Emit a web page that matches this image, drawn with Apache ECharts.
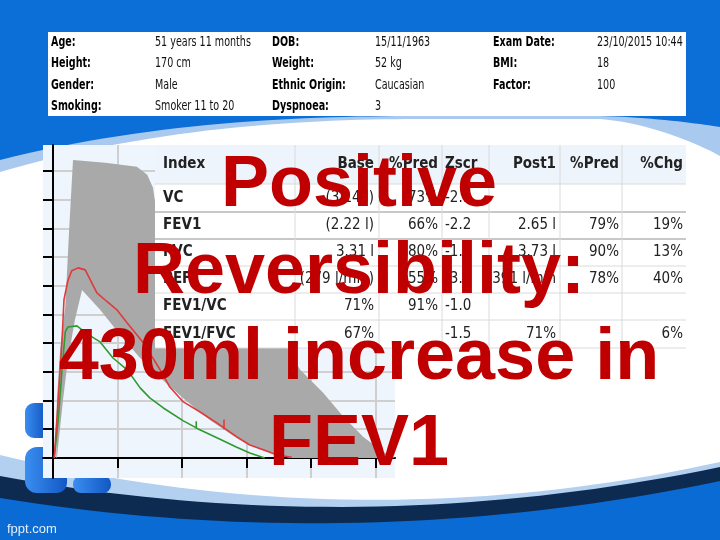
<!DOCTYPE html>
<html><head><meta charset="utf-8">
<script src="https://cdn.jsdelivr.net/npm/echarts@6/dist/echarts.min.js"></script>
<style>html,body{margin:0;padding:0;background:#0b6fd7;}#c{width:720px;height:540px;}</style>
</head><body><div id="c"></div>
<script>
// ---------- data ----------
const xTicks = [1, 2, 3, 4, 5];                 // volume (l)
const yTicks = [1, 2, 3, 4, 5, 6, 7, 8, 9, 10]; // flow (l/s)

// post-bronchodilator flow-volume curve (red)
const postCurve = [[0.02,0],[0.08,2.02],[0.14,4.11],[0.17,5.51],[0.23,6.17],[0.29,6.52],[0.39,6.62],[0.50,6.55],[0.57,6.24],[0.68,5.75],[0.84,5.44],[0.99,5.16],[1.15,4.70],[1.40,4.01],[1.66,3.07],[1.81,2.47],[2.02,1.95],[2.23,1.67],[2.54,1.22],[2.85,0.73],[3.05,0.45],[3.26,0.28],[3.47,0.10],[3.70,0.02]];
// baseline flow-volume curve (green)
const baseCurve = [[0.02,0],[0.08,1.32],[0.14,3.07],[0.19,4.39],[0.23,4.56],[0.37,4.60],[0.53,4.32],[0.73,4.04],[0.93,3.48],[1.15,3.07],[1.35,2.44],[1.50,2.09],[1.71,1.74],[2.02,1.29],[2.25,1.01],[2.54,0.70],[2.84,0.38],[3.05,0.17],[3.28,0]];
// FEV1 markers
const fev1BaseMark = [[2.22,1.02],[2.22,1.28]];
const fev1PostMark = [[2.65,1.00],[2.65,1.34]];
// predicted normal band
const bandOuter = [[0.05,0],[0.06,2.02],[0.11,3.76],[0.19,5.26],[0.25,7.94],[0.31,10.38],[0.81,10.28],[1.30,10.14],[1.46,9.86],[1.55,9.41],[1.60,8.6],[2.2,7.0],[2.9,5.3],[3.5,4.1],[3.63,3.83],[3.83,3.07],[4.19,2.26],[4.50,1.43],[4.81,0.73],[5.12,0.21],[5.3,0]];
const bandInner = [[3.67,0],[3.21,0.28],[2.82,0.73],[2.43,1.32],[2.05,2.02],[1.66,2.79],[1.35,3.48],[1.04,4.29],[0.73,5.16],[0.45,5.85],[0.34,4.81],[0.23,3.41],[0.155,2.02],[0.09,0.63],[0.06,0]];

// patient info
const infoLabels1 = ['Age:','Height:','Gender:','Smoking:'];
const infoValues1 = ['51 years 11 months','170 cm','Male','Smoker 11 to 20'];
const infoLabels2 = ['DOB:','Weight:','Ethnic Origin:','Dyspnoea:'];
const infoValues2 = ['15/11/1963','52 kg','Caucasian','3'];
const infoLabels3 = ['Exam Date:','BMI:','Factor:',''];
const infoValues3 = ['23/10/2015 10:44','18','100',''];

// results table
const tableHeader = ['Index','Base','%Pred','Zscr','Post1','%Pred','%Chg'];
const indexNames = ['VC','FEV1','FVC','PEF','FEV1/VC','FEV1/FVC'];
const baseVals   = ['(3.14 l)','(2.22 l)','3.31 l','(279 l/min)','71%','67%'];
const basePred   = ['73%','66%','80%','55%','91%',''];
const zscrVals   = ['-2.1','-2.2','-1.4','-3.1','-1.0','-1.5'];
const postVals   = ['','2.65 l','3.73 l','391 l/min','','71%'];
const postPred   = ['','79%','90%','78%','',''];
const chgVals    = ['','19%','13%','40%','','6%'];

const titleLines = ['Positive','Reversibility:','430ml increase in','FEV1'];

// ---------- helpers for decoration ----------
function cubic(p0,p1,p2,p3,n){const o=[];for(let i=0;i<=n;i++){const t=i/n,u=1-t;o.push([u*u*u*p0[0]+3*u*u*t*p1[0]+3*u*t*t*p2[0]+t*t*t*p3[0],u*u*u*p0[1]+3*u*u*t*p1[1]+3*u*t*t*p2[1]+t*t*t*p3[1]]);}return o;}
function quad(p0,p1,p2,n){const o=[];for(let i=0;i<=n;i++){const t=i/n,u=1-t;o.push([u*u*p0[0]+2*u*t*p1[0]+t*t*p2[0],u*u*p0[1]+2*u*t*p1[1]+t*t*p2[1]]);}return o;}

// ---------- build ----------
const chart = echarts.init(document.getElementById('c'));
const G = [];
function topShape(y0,yA,yB,yC,yEnd){
  return cubic([0,y0],[150,yA],[300,yB],[420,yB],30).concat([[600,yB]]).concat(cubic([600,yB],[650,yB+yC*0.1],[700,yB+yC*0.7],[720,yEnd],20)).concat([[720,540],[0,540]]);
}
const bgPolys = [
  [topShape(160,122,116,11,127), '#a9c9ef'],
  [topShape(172,128,119,37,156), '#ffffff'],
  [quad([0,455],[360,541],[720,462],40).concat([[720,540],[0,540]]), '#b3d0f0'],
  [quad([0,476],[360,542],[720,467],40).concat([[720,540],[0,540]]), '#0d2b50'],
  [quad([0,498],[360,556],[720,481],40).concat([[720,540],[0,540]]), '#0a6bd4']
];
bgPolys.forEach(p => G.push({type:'polygon', z:-10, silent:true, shape:{points:p[0]}, style:{fill:p[1]}}));
// clipart figures
[[25,403,20,35,[9,3,3,9]],[25,447,42,46,[12,8,10,12]],[73,476,38,17,[8,8,8,8]]].forEach(r =>
  G.push({type:'rect', z:-9, silent:true, shape:{x:r[0],y:r[1],width:r[2],height:r[3],r:r[4]},
    style:{fill:{type:'linear',x:0,y:0,x2:1,y2:0,colorStops:[{offset:0,color:'#3b8ef0'},{offset:1,color:'#1257c4'}]}}}));
G.push({type:'text', z:-8, x:7, y:529, style:{text:'fppt.com', font:'13px "Liberation Sans", Arial', fill:'#e6eef8', align:'left', verticalAlign:'middle'}});

// info box
G.push({type:'rect', z:50, shape:{x:48,y:32,width:638,height:84}, style:{fill:'#ffffff'}});
const infoRows = [42, 63.5, 85, 106];
const infoCols = [[51,155,infoLabels1,infoValues1],[272,375,infoLabels2,infoValues2],[493,597,infoLabels3,infoValues3]];
infoCols.forEach(c => {
  c[2].forEach((t,i) => { if(t) G.push({type:'text', z:51, x:c[0], y:infoRows[i], scaleX:0.76,
      style:{text:t, font:'bold 14px "DejaVu Sans Condensed", "DejaVu Sans"', fill:'#000', align:'left', verticalAlign:'middle'}}); });
  c[3].forEach((t,i) => { if(t) G.push({type:'text', z:51, x:c[1], y:infoRows[i], scaleX:0.76,
      style:{text:t, font:'14px "DejaVu Sans Condensed", "DejaVu Sans"', fill:'#111', align:'left', verticalAlign:'middle'}}); });
});

// results table
const colX = [155,295,379,442,489,560,622,686];
const rowY = [145,184,212,239,266,293,320,348];
G.push({type:'rect', z:60, shape:{x:colX[0],y:rowY[0],width:colX[7]-colX[0],height:rowY[7]-rowY[0]}, style:{fill:'#ffffff'}});
G.push({type:'rect', z:60, shape:{x:colX[0],y:rowY[0],width:colX[7]-colX[0],height:rowY[1]-rowY[0]}, style:{fill:'#eef4fb'}});
rowY.forEach((y,i) => { if (i>0) G.push({type:'line', z:61, shape:{x1:colX[0],y1:y,x2:colX[7],y2:y},
   style:{stroke:(i===2||i===3)?'#c8c8c8':'#dadada', lineWidth:(i===2||i===3)?2:1}}); });
colX.forEach((x,i) => { if (i>0 && i<7) G.push({type:'line', z:61, shape:{x1:x,y1:rowY[0],x2:x,y2:rowY[7]}, style:{stroke:'#dadada', lineWidth:1}}); });
const cols = [indexNames, baseVals, basePred, zscrVals, postVals, postPred, chgVals];
const colAlign = ['left','right','right','left','right','right','right'];
const colAnchor = [163, 374, 438, 445, 556, 619, 683];
const tFont = '15px "DejaVu Sans Condensed", "DejaVu Sans"';
const tBold = 'bold 15px "DejaVu Sans Condensed", "DejaVu Sans"';
tableHeader.forEach((h,j) => G.push({type:'text', z:62, x:colAnchor[j], y:(rowY[0]+rowY[1])/2,
  style:{text:h, font:tBold, fill:'#222', align:colAlign[j], verticalAlign:'middle'}}));
cols.forEach((col,j) => col.forEach((t,i) => { if(t) G.push({type:'text', z:62, x:colAnchor[j], y:(rowY[i+1]+rowY[i+2])/2,
  style:{text:t, font:j===0?tBold:tFont, fill:'#222', align:colAlign[j], verticalAlign:'middle'}}); }));

// overlay title
const titleY = [186, 273, 359, 445];
titleLines.forEach((t,i) => G.push({type:'text', z:100, x:359, y:titleY[i],
  style:{text:t, font:'bold 72px "Liberation Sans", Arial, sans-serif', fill:'#c00000', align:'center', verticalAlign:'middle'}}));

const bandPolygon = bandOuter.concat(bandInner);

chart.setOption({
  backgroundColor: '#0b6fd7',
  animation: false,
  grid: {left:43, top:145, width:352, height:333, show:true, backgroundColor:'#eef5fc', borderWidth:0, z:0},
  xAxis: {type:'value', min:-0.155, max:5.3,
    axisLine:{show:true, onZero:true, lineStyle:{color:'#000', width:2}},
    axisTick:{show:true, inside:false, length:10, customValues:xTicks, lineStyle:{color:'#000', width:2}},
    axisLabel:{show:false},
    splitLine:{show:true, lineStyle:{color:'#cfcfcf', width:2}}},
  yAxis: {type:'value', min:-0.7, max:10.9,
    axisLine:{show:true, onZero:true, lineStyle:{color:'#000', width:2}},
    axisTick:{show:true, inside:false, length:10, customValues:yTicks, lineStyle:{color:'#000', width:2}},
    axisLabel:{show:false},
    splitLine:{show:true, lineStyle:{color:'#cfcfcf', width:2}}},
  series: [
    {type:'custom', silent:true, z:1, data:[[0,0]],
      renderItem:(params, api) => ({type:'polygon', shape:{points:bandPolygon.map(p => api.coord(p))}, style:{fill:'#a9a9a9'}})},
    {type:'line', data:baseCurve, showSymbol:false, lineStyle:{color:'#2f9a2f', width:1.6}, z:3},
    {type:'line', data:postCurve, showSymbol:false, lineStyle:{color:'#e03a3a', width:1.6}, z:4},
    {type:'line', data:fev1BaseMark, showSymbol:false, lineStyle:{color:'#2f9a2f', width:1.6}, z:3},
    {type:'line', data:fev1PostMark, showSymbol:false, lineStyle:{color:'#e03a3a', width:1.6}, z:4}
  ],
  graphic: G
});
</script></body></html>
